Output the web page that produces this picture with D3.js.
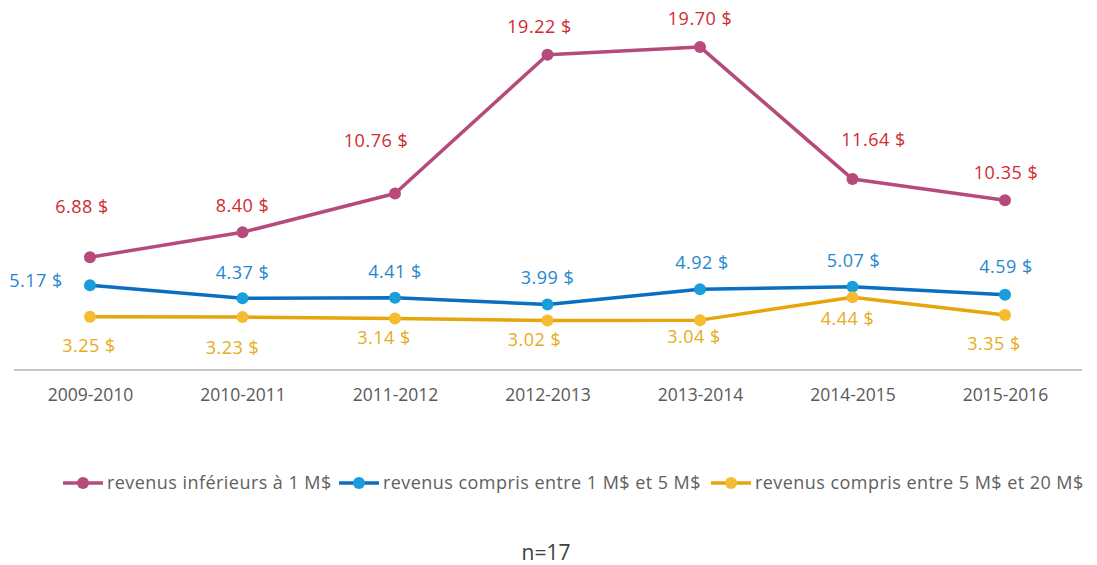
<!DOCTYPE html>
<html>
<head>
<meta charset="utf-8">
<script src="https://cdn.jsdelivr.net/npm/d3@7"></script>
<style>
  body { margin: 0; background: #fff; }
  svg { display: block; }
</style>
</head>
<body>
<svg width="1097" height="565"></svg>
<script>
const years = ["2009-2010", "2010-2011", "2011-2012", "2012-2013", "2013-2014", "2014-2015", "2015-2016"];
const seriesNames = [
  "revenus inférieurs à 1 M$",
  "revenus compris entre 1 M$ et 5 M$",
  "revenus compris entre 5 M$ et 20 M$"
];
const small = [6.88, 8.40, 10.76, 19.22, 19.70, 11.64, 10.35];
const medium = [5.17, 4.37, 4.41, 3.99, 4.92, 5.07, 4.59];
const large = [3.25, 3.23, 3.14, 3.02, 3.04, 4.44, 3.35];

// label offsets from the point (dx, dy), hand placed like the original
const smallOff = [[-8, -50], [0, -27], [-19, -53], [-8, -28], [0, -28], [21, -39], [1, -28]];
const mediumOff = [[-54, -5], [0, -26], [0, -26], [0, -27], [2, -27], [1, -26], [1, -28]];
const largeOff = [[-1, 29], [-10, 31], [-11, 19], [-13, 19], [-6, 17], [-5, 22], [-11, 29]];

const series = [
  { name: seriesNames[0], values: small, off: smallOff, line: "#b64b7b", dot: "#b64b7b", label: "#d02a30" },
  { name: seriesNames[1], values: medium, off: mediumOff, line: "#0b6fc1", dot: "#1a9ddd", label: "#2588cf" },
  { name: seriesNames[2], values: large, off: largeOff, line: "#e6a50a", dot: "#f6bb30", label: "#e6ac20" }
];

const font = "'Open Sans', sans-serif";
const svg = d3.select("svg");

const x = d3.scalePoint().domain(years).range([90, 1005]);
const y = d3.scaleLinear().domain([0, 20]).range([370, 42]);

// baseline
svg.append("line")
  .attr("x1", 14).attr("x2", 1082)
  .attr("y1", y(0)).attr("y2", y(0))
  .attr("stroke", "#b5b5b5").attr("stroke-width", 1.5);

const xAxis = svg.append("g")
  .attr("transform", `translate(0, ${y(0)})`)
  .call(d3.axisBottom(x).tickSize(0).tickPadding(19));
xAxis.select(".domain").remove();
xAxis.selectAll("text")
  .attr("font-family", font)
  .attr("font-size", "17.5px")
  .attr("fill", "#595959");

const line = d3.line().x((d, i) => x(years[i])).y(d => y(d));

series.forEach(s => {
  svg.append("path")
    .datum(s.values)
    .attr("fill", "none")
    .attr("stroke", s.line)
    .attr("stroke-width", 3.5)
    .attr("stroke-linejoin", "round")
    .attr("d", line);

  svg.append("g").selectAll("circle")
    .data(s.values)
    .join("circle")
    .attr("cx", (d, i) => x(years[i]))
    .attr("cy", d => y(d))
    .attr("r", 6)
    .attr("fill", s.dot);

  svg.append("g").selectAll("text")
    .data(s.values)
    .join("text")
    .attr("x", (d, i) => x(years[i]) + s.off[i][0])
    .attr("y", (d, i) => y(d) + s.off[i][1])
    .attr("dy", "0.35em")
    .attr("text-anchor", "middle")
    .attr("font-family", font)
    .attr("font-size", "18px")
    .attr("letter-spacing", "0.5px")
    .attr("fill", s.label)
    .text(d => d.toFixed(2) + " $");
});

// legend
const legendX = [63, 339, 711];
const legend = svg.append("g").attr("transform", "translate(0, 483)");
series.forEach((s, i) => {
  const g = legend.append("g").attr("transform", `translate(${legendX[i]}, 0)`);
  g.append("line").attr("x1", 0).attr("x2", 40)
    .attr("stroke", s.line).attr("stroke-width", 3.5);
  g.append("circle").attr("cx", 20).attr("r", 6).attr("fill", s.dot);
  g.append("text")
    .attr("x", 44).attr("dy", "0.35em")
    .attr("font-family", font)
    .attr("font-size", "18px")
    .attr("letter-spacing", "0.45px")
    .attr("fill", "#606060")
    .text(s.name);
});

svg.append("text")
  .attr("x", 546).attr("y", 553)
  .attr("dy", "0.35em")
  .attr("text-anchor", "middle")
  .attr("font-family", font)
  .attr("font-size", "21px")
  .attr("fill", "#404040")
  .text("n=17");
</script>
</body>
</html>
